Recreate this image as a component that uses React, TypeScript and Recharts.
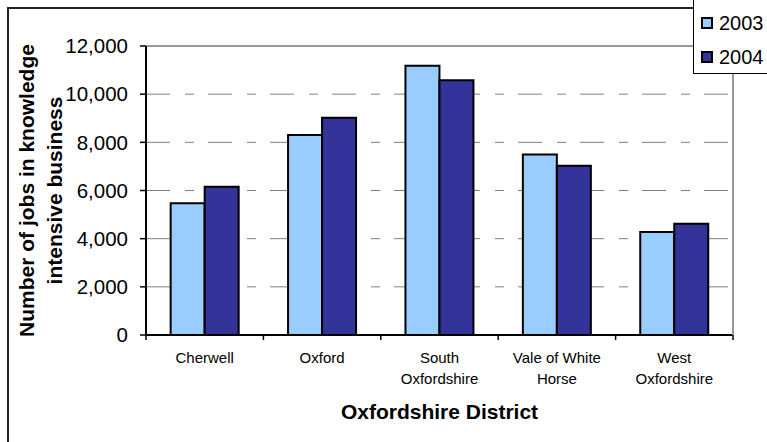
import React from "react";
import {
  BarChart,
  Bar,
  XAxis,
  YAxis,
  CartesianGrid,
  ReferenceLine,
  Legend,
  Label,
} from "recharts";

// district names, "\n" marks the line break used under the axis
const districts = [
  "Cherwell",
  "Oxford",
  "South\nOxfordshire",
  "Vale of White\nHorse",
  "West\nOxfordshire",
];
const jobs2003 = [5470, 8300, 11180, 7500, 4280];
const jobs2004 = [6160, 9020, 10580, 7030, 4620];
const yTicks = [0, 2000, 4000, 6000, 8000, 10000, 12000];

const data = districts.map((name, i) => ({
  name,
  y2003: jobs2003[i],
  y2004: jobs2004[i],
}));

const FONT = '"Liberation Sans", Arial, sans-serif';

function DistrictTick(props: any) {
  const { x, y, payload, index, visibleTicksCount, width } = props;
  const half =
    payload && payload.offset ? payload.offset : width / (visibleTicksCount * 2);
  const lines = String(payload.value).split("\n");
  const isLast = index === visibleTicksCount - 1;
  return (
    <g>
      <line x1={x - half} x2={x - half} y1={y} y2={y + 5} stroke="#000" strokeWidth={1.5} />
      {isLast && (
        <line x1={x + half} x2={x + half} y1={y} y2={y + 5} stroke="#000" strokeWidth={1.5} />
      )}
      {lines.map((line, i) => (
        <text
          key={i}
          x={x}
          y={y + 28 + i * 21}
          textAnchor="middle"
          fontSize={15}
          fontFamily={FONT}
          fill="#000"
        >
          {line}
        </text>
      ))}
    </g>
  );
}

function LegendBox(props: any) {
  const items = props.payload || [];
  return (
    <div
      style={{
        width: 100,
        height: 75,
        background: "#fff",
        border: "1px solid #000",
        boxSizing: "border-box",
        position: "relative",
        fontFamily: FONT,
      }}
    >
      {items.map((item: any, i: number) => (
        <div
          key={item.value}
          style={{ position: "absolute", left: 7, top: 16 + i * 34, height: 14, display: "flex", alignItems: "center" }}
        >
          <div
            style={{
              width: 12,
              height: 12,
              boxSizing: "border-box",
              background: item.color,
              border: "2px solid #000",
            }}
          />
          <span style={{ fontSize: 20, marginLeft: 6, lineHeight: "14px", color: "#000" }}>
            {item.value}
          </span>
        </div>
      ))}
    </div>
  );
}

export default function App() {
  return (
    <div
      style={{
        position: "absolute",
        left: 0,
        top: 0,
        width: 767,
        height: 442,
        overflow: "hidden",
        background: "#fff",
        fontFamily: FONT,
      }}
    >
      <div
        style={{
          position: "absolute",
          left: 7,
          top: 7,
          width: 800,
          height: 500,
          border: "2px solid #222",
          boxSizing: "border-box",
        }}
      />
      <div style={{ position: "absolute", left: 0, top: 0 }}>
        <BarChart
          width={767}
          height={442}
          data={data}
          margin={{ top: 46, right: 33, bottom: 0, left: 0 }}
          barGap={0}
          barCategoryGap="21%"
        >
          <CartesianGrid
            vertical={false}
            stroke="#808080"
            strokeDasharray="24 15 9 14"
          />
          <ReferenceLine y={12000} stroke="#999" strokeWidth={2} />
          <XAxis
            dataKey="name"
            height={107}
            tickSize={0}
            tickMargin={0}
            tickLine={false}
            axisLine={{ stroke: "#000", strokeWidth: 2 }}
            tick={(p: any) => <DistrictTick {...p} />}
            interval={0}
          >
            <Label
              content={(p: any) => {
                const vb = p.viewBox;
                return (
                  <text
                    x={vb.x + vb.width / 2}
                    y={vb.y + 84}
                    textAnchor="middle"
                    fontSize={21}
                    fontWeight="bold"
                    fontFamily={FONT}
                    fill="#000"
                  >
                    Oxfordshire District
                  </text>
                );
              }}
            />
          </XAxis>
          <YAxis
            width={146}
            domain={[0, 12000]}
            ticks={yTicks}
            tickFormatter={(v: number) => v.toLocaleString("en-US")}
            tickSize={6}
            tickMargin={12}
            tick={{ fontSize: 20.5, fill: "#000", fontFamily: FONT }}
            tickLine={{ stroke: "#000", strokeWidth: 1.5 }}
            axisLine={{ stroke: "#000", strokeWidth: 2 }}
          >
            <Label
              content={(p: any) => {
                const vb = p.viewBox;
                const cy = vb.y + vb.height / 2;
                return (
                  <g>
                    <text
                      x={34}
                      y={cy}
                      transform={`rotate(-90 34 ${cy})`}
                      textAnchor="middle"
                      fontSize={21}
                      fontWeight="bold"
                      fontFamily={FONT}
                      fill="#000"
                    >
                      Number of jobs in knowledge
                    </text>
                    <text
                      x={62}
                      y={cy}
                      transform={`rotate(-90 62 ${cy})`}
                      textAnchor="middle"
                      fontSize={21}
                      fontWeight="bold"
                      fontFamily={FONT}
                      fill="#000"
                    >
                      intensive business
                    </text>
                  </g>
                );
              }}
            />
          </YAxis>
          <YAxis
            yAxisId="frame"
            orientation="right"
            width={1}
            domain={[0, 12000]}
            tick={false}
            tickLine={false}
            axisLine={{ stroke: "#999", strokeWidth: 2 }}
          />
          <Bar
            dataKey="y2003"
            name="2003"
            fill="#99CCFF"
            stroke="#000"
            strokeWidth={2}
            isAnimationActive={false}
          />
          <Bar
            dataKey="y2004"
            name="2004"
            fill="#333399"
            stroke="#000"
            strokeWidth={2}
            isAnimationActive={false}
          />
          <Legend
            layout="horizontal"
            align="center"
            verticalAlign="middle"
            content={(p: any) => <LegendBox {...p} />}
            wrapperStyle={{ position: "absolute", left: 693, top: -1, width: 100, height: 75 }}
          />
        </BarChart>
      </div>
    </div>
  );
}
